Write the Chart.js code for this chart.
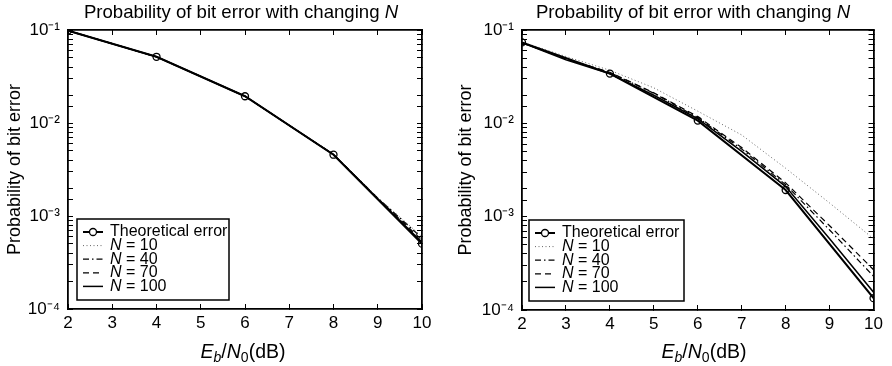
<!DOCTYPE html>
<html>
<head>
<meta charset="utf-8">
<script src="https://cdn.jsdelivr.net/npm/chart.js@4.4.0/dist/chart.umd.min.js"></script>
<style>
    body { margin: 0; background: #fff; width: 892px; height: 366px; position: relative; overflow: hidden; }
    canvas { position: absolute; top: 0; }
    .lbl { position: absolute; white-space: nowrap; transform: translateX(-50%);
           font: 18.6px "Liberation Sans", Arial, sans-serif; line-height: 18px; color: #000; }
    .xt { font-size: 19.5px; }
    .lbl sub { font-size: 14px; line-height: 0; vertical-align: -4px; }
</style>
</head>
<body>
<canvas id="leftChart" width="446" height="366" style="left:0"></canvas>
<canvas id="rightChart" width="446" height="366" style="left:446px"></canvas>

<div class="lbl" style="left:241px; top:3px">Probability of bit error with changing <i>N</i></div>
<div class="lbl" style="left:693px; top:3px">Probability of bit error with changing <i>N</i></div>
<div class="lbl xt" style="left:243px; top:342px"><i>E</i><sub><i>b</i></sub>/<i>N</i><sub>0</sub>(dB)</div>
<div class="lbl xt" style="left:704px; top:342px"><i>E</i><sub><i>b</i></sub>/<i>N</i><sub>0</sub>(dB)</div>

<script>
// x values (Eb/N0 in dB)
const theoryX = [2, 4, 6, 8, 10];
const simX = [2, 3, 4, 5, 6, 7, 8, 9, 10];
const yTicks = ["10⁻¹", "10⁻²", "10⁻³", "10⁻⁴"];

// left panel
const leftTheory = [0.0985, 0.0515, 0.0194, 0.00456, 0.000504];
const leftN10 = [0.0985, 0.0715, 0.0515, 0.0318, 0.0195, 0.0095, 0.0046, 0.00158, 0.00060];
const leftN40 = [0.0985, 0.0713, 0.0514, 0.0317, 0.0194, 0.0094, 0.0046, 0.00156, 0.00058];
const leftN70 = [0.0985, 0.0712, 0.0513, 0.0316, 0.0194, 0.0094, 0.0046, 0.00155, 0.00055];
const leftN100 = [0.0985, 0.0712, 0.0515, 0.0316, 0.0194, 0.0094, 0.00458, 0.00153, 0.00052];

// right panel
const rightTheory = [0.0736, 0.0341, 0.0107, 0.00193, 0.000134];
const rightN10 = [0.0745, 0.052, 0.037, 0.024, 0.0135, 0.0075, 0.0033, 0.0014, 0.00058];
const rightN40 = [0.073, 0.049, 0.035, 0.021, 0.0115, 0.0053, 0.0022, 0.00072, 0.00023];
const rightN70 = [0.073, 0.049, 0.0352, 0.0212, 0.0118, 0.0055, 0.0023, 0.00080, 0.00027];
const rightN100 = [0.073, 0.048, 0.034, 0.0200, 0.0112, 0.0050, 0.0021, 0.00058, 0.000155];

Chart.defaults.font.family = '"Liberation Sans", Arial, sans-serif';
Chart.defaults.color = "#000";

const pts = (xs, ys) => xs.map((x, i) => ({ x: x, y: ys[i] }));

// draws the legend box inside the plot, lower left corner
const boxLegend = {
    id: "boxLegend",
    afterDraw(chart, args, opts) {
        const ctx = chart.ctx;
        const a = chart.chartArea;
        const sets = chart.data.datasets;
        const h = 81;
        const bx = a.left + opts.dx;
        const by = a.bottom - opts.dy - h;
        ctx.save();
        ctx.fillStyle = "#fff";
        ctx.fillRect(bx, by, opts.w, h);
        ctx.strokeStyle = "#000";
        ctx.lineWidth = 1.5;
        ctx.strokeRect(bx, by, opts.w, h);
        ctx.textBaseline = "middle";
        sets.forEach((ds, i) => {
            const cy = by + 13 + i * 13.6;
            ctx.strokeStyle = ds.borderColor;
            ctx.lineWidth = ds.borderWidth;
            ctx.setLineDash(ds.borderDash || []);
            ctx.beginPath();
            ctx.moveTo(bx + 6, cy);
            ctx.lineTo(bx + 26, cy);
            ctx.stroke();
            ctx.setLineDash([]);
            if (ds.pointRadius > 0) {
                ctx.lineWidth = 1.3;
                ctx.beginPath();
                ctx.arc(bx + 16, cy, ds.pointRadius, 0, Math.PI * 2);
                ctx.fillStyle = "#fff";
                ctx.fill();
                ctx.stroke();
            }
            ctx.fillStyle = "#000";
            let tx = bx + 33;
            if (ds.label.startsWith("N ")) {
                ctx.font = 'italic 16px "Liberation Sans", Arial, sans-serif';
                ctx.fillText("N", tx, cy);
                tx += ctx.measureText("N").width;
                ctx.font = '16px "Liberation Sans", Arial, sans-serif';
                ctx.fillText(ds.label.slice(1), tx, cy);
            } else {
                ctx.font = '16px "Liberation Sans", Arial, sans-serif';
                ctx.fillText(ds.label, tx, cy);
            }
        });
        ctx.restore();
    }
};

function makeDatasets(theory, n10, n40, n70, n100) {
    return [
        { label: "Theoretical error", data: pts(theoryX, theory), borderColor: "#000", borderWidth: 2,
          pointRadius: 3.5, pointBorderWidth: 1.3, pointBackgroundColor: "rgba(255,255,255,0)", pointBorderColor: "#000" },
        { label: "N = 10", data: pts(simX, n10), borderColor: "#666", borderWidth: 1, borderDash: [1, 2.5], pointRadius: 0 },
        { label: "N = 40", data: pts(simX, n40), borderColor: "#000", borderWidth: 1.2, borderDash: [6, 3, 1.5, 3], pointRadius: 0 },
        { label: "N = 70", data: pts(simX, n70), borderColor: "#000", borderWidth: 1.2, borderDash: [6, 4], pointRadius: 0 },
        { label: "N = 100", data: pts(simX, n100), borderColor: "#000", borderWidth: 1.5, pointRadius: 0 }
    ];
}

function decadeLabel(v) {
    const e = Math.log10(v);
    if (Math.abs(e - Math.round(e)) < 1e-6) {
        return yTicks[-Math.round(e) - 1];
    }
    return "";
}

function makeChart(id, datasets, lay) {
    const grid = { drawOnChartArea: false, drawTicks: true, tickLength: -5, tickColor: "#000", tickWidth: 1 };
    const border = { display: true, color: "#000", width: 1.8 };
    return new Chart(document.getElementById(id).getContext("2d"), {
        type: "line",
        data: { datasets: datasets },
        plugins: [boxLegend],
        options: {
            responsive: false,
            animation: false,
            layout: { padding: { top: 30, right: lay.right, bottom: 0, left: 0 } },
            plugins: {
                legend: { display: false },
                tooltip: { enabled: false },
                boxLegend: { dx: lay.legX, dy: 9, w: lay.legW }
            },
            scales: {
                x: {
                    type: "linear", position: "bottom", min: 2, max: 10,
                    ticks: { stepSize: 1, padding: 9, font: { size: 17 }, maxRotation: 0 },
                    grid: grid, border: border,
                    afterFit(s) { s.height = lay.xh; }
                },
                x2: {
                    type: "linear", position: "top", min: 2, max: 10,
                    ticks: { stepSize: 1, display: false },
                    grid: grid, border: border,
                    afterFit(s) { s.height = 0; }
                },
                y: {
                    type: "logarithmic", position: "left", min: 1e-4, max: 1e-1,
                    ticks: { autoSkip: false, padding: 13, font: { size: 17 }, callback: decadeLabel },
                    grid: grid, border: border,
                    title: { display: true, text: "Probability of bit error", font: { size: 18 }, padding: { top: lay.titlePad } },
                    afterFit(s) { s.width = lay.yw; }
                },
                y2: {
                    type: "logarithmic", position: "right", min: 1e-4, max: 1e-1,
                    ticks: { autoSkip: false, display: false },
                    grid: grid, border: border,
                    afterFit(s) { s.width = 0; }
                }
            }
        }
    });
}

makeChart("leftChart", makeDatasets(leftTheory, leftN10, leftN40, leftN70, leftN100),
    { right: 24, xh: 57, yw: 68, titlePad: 4, legX: 9, legW: 152 });
makeChart("rightChart", makeDatasets(rightTheory, rightN10, rightN40, rightN70, rightN100),
    { right: 17, xh: 56, yw: 76, titlePad: 9, legX: 7, legW: 155 });
</script>
</body>
</html>
